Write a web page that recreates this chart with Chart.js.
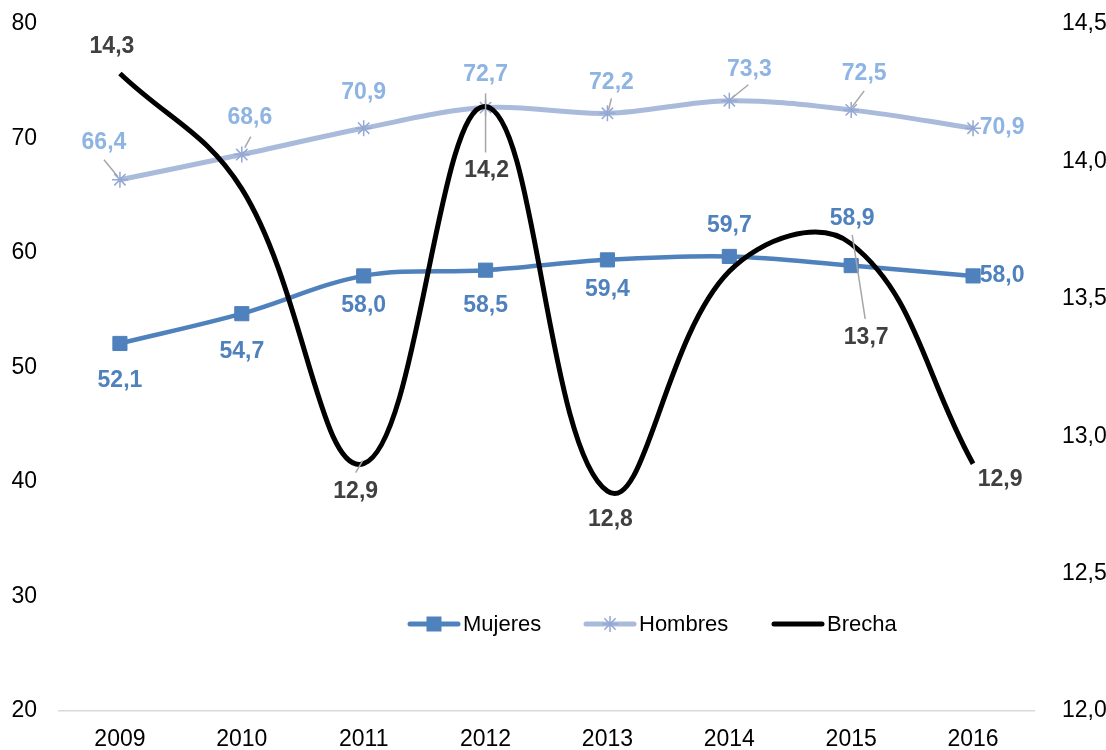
<!DOCTYPE html>
<html>
<head>
<meta charset="utf-8">
<script src="https://cdn.jsdelivr.net/npm/chart.js@4/dist/chart.umd.min.js"></script>
<style>
  html, body { margin: 0; padding: 0; background: #ffffff; }
  #wrap { width: 1106px; height: 750px; }
</style>
</head>
<body>
<div id="wrap"><canvas id="chart" width="1106" height="750"></canvas></div>
<script>
// =====================
// Data
// =====================

const years = ['2009', '2010', '2011', '2012', '2013', '2014', '2015', '2016'];
const mujeres = [52.1, 54.7, 58.0, 58.5, 59.4, 59.7, 58.9, 58.0];
const hombres = [66.4, 68.6, 70.9, 72.7, 72.2, 73.3, 72.5, 70.9];
const brecha = [14.32, 13.9, 12.9, 14.2, 12.8, 13.6, 13.7, 12.9];

const leftAxis = { min: 20, max: 80, step: 10 };
const rightAxis = { min: 12, max: 14.5, step: 0.5 };

// =====================
// Styles
// =====================

const FONT = "'Liberation Sans', Arial, sans-serif";
const colMujeres = '#4f81bd';
const colHombres = '#a9badb';
const colHombresMark = '#94a8d3';
const colHombresText = '#8db4e2';
const colBrecha = '#000000';
const colBrechaText = '#404040';
const colLeader = '#a6a6a6';

// label offsets from the point [dx, dy], null = no label
const mujeresLabelPos = [[0, 37], [0, 38], [0, 30], [0, 35], [0, 30], [0, -31], [1, -47], [29, 0]];
const hombresLabelPos = [[-16, -37], [8, -37], [0, -36], [0, -33], [4, -31], [20, -31], [13, -36], [29, -1]];
const brechaLabelPos = [[-8, -27], null, [-8, 28], [1, 64], [3, 28], null, [15, 94], [27, 16]];

// leader lines relative to the point [x1, y1, x2, y2]
const hombresLeaders = [[-16, -20, -2, -3], [9, -18, 3, -7], null, null, [4, -15, 1, -3], [19, -16, 3, -3], [13, -19, 1, -3], null];
const brechaLeaders = [null, null, [-1, -3, -8, 9], [0, -13, 0, 46], null, null, [1, -9, 14, 75], null];

const fmt = v => v.toFixed(1).replace('.', ',');

// =====================
// Plugins
// =====================

const labelPlugin = {
  id: 'pointLabels',
  afterDatasetsDraw(chart) {
    const ctx = chart.ctx;
    const sets = [
      { idx: 0, values: mujeres, pos: mujeresLabelPos, leaders: null, color: colMujeres },
      { idx: 1, values: hombres, pos: hombresLabelPos, leaders: hombresLeaders, color: colHombresText },
      { idx: 2, values: brecha, pos: brechaLabelPos, leaders: brechaLeaders, color: colBrechaText }
    ];
    ctx.save();
    // leader lines first
    ctx.strokeStyle = colLeader;
    ctx.lineWidth = 1.5;
    sets.forEach(s => {
      if (!s.leaders) return;
      const pts = chart.getDatasetMeta(s.idx).data;
      s.leaders.forEach((l, i) => {
        if (!l) return;
        const p = pts[i];
        ctx.beginPath();
        ctx.moveTo(p.x + l[0], p.y + l[1]);
        ctx.lineTo(p.x + l[2], p.y + l[3]);
        ctx.stroke();
      });
    });
    ctx.font = 'bold 23px ' + FONT;
    ctx.textAlign = 'center';
    ctx.textBaseline = 'middle';
    sets.forEach(s => {
      const pts = chart.getDatasetMeta(s.idx).data;
      ctx.fillStyle = s.color;
      s.values.forEach((v, i) => {
        const off = s.pos[i];
        if (!off) return;
        ctx.fillText(fmt(v), pts[i].x + off[0], pts[i].y + off[1]);
      });
    });
    ctx.restore();
  }
};

const legendPlugin = {
  id: 'innerLegend',
  afterDraw(chart) {
    const ctx = chart.ctx;
    const y = 624;
    const items = [
      { x: 408, text: 'Mujeres', color: colMujeres, mark: 'rect' },
      { x: 584, text: 'Hombres', color: colHombres, mark: 'star' },
      { x: 772, text: 'Brecha', color: colBrecha, mark: null }
    ];
    ctx.save();
    items.forEach(it => {
      ctx.strokeStyle = it.color;
      ctx.lineWidth = 5;
      ctx.lineCap = 'round';
      ctx.beginPath();
      ctx.moveTo(it.x + 2, y);
      ctx.lineTo(it.x + 50, y);
      ctx.stroke();
      const cx = it.x + 26;
      if (it.mark === 'rect') {
        ctx.fillStyle = it.color;
        ctx.fillRect(cx - 7.5, y - 7.5, 15, 15);
      } else if (it.mark === 'star') {
        ctx.strokeStyle = colHombresMark;
        ctx.lineWidth = 1.5;
        ctx.lineCap = 'butt';
        Chart.helpers.drawPoint(ctx, { pointStyle: 'star', radius: 8, rotation: 0, borderWidth: 1.5 }, cx, y);
      }
      ctx.fillStyle = '#000000';
      ctx.font = '22px ' + FONT;
      ctx.textAlign = 'left';
      ctx.textBaseline = 'middle';
      ctx.fillText(it.text, it.x + 55, y + 1);
    });
    ctx.restore();
  }
};

// y axes: fixed width, no automatic top/bottom padding
const fitY = w => s => {
  s.width = w;
  s.paddingTop = 0;
  s.paddingBottom = 0;
};

// =====================
// Chart
// =====================

Chart.defaults.font.family = FONT;
Chart.defaults.font.size = 23;
Chart.defaults.color = '#000000';

new Chart(document.getElementById('chart'), {
  type: 'line',
  data: {
    labels: years,
    datasets: [
      {
        label: 'Mujeres',
        data: mujeres,
        yAxisID: 'y',
        borderColor: colMujeres,
        backgroundColor: colMujeres,
        borderWidth: 4.5,
        tension: 0.35,
        pointStyle: 'rect',
        pointRadius: 10,
        pointBackgroundColor: colMujeres,
        pointBorderColor: colMujeres,
        pointBorderWidth: 1,
        order: 2
      },
      {
        label: 'Hombres',
        data: hombres,
        yAxisID: 'y',
        borderColor: colHombres,
        backgroundColor: colHombres,
        borderWidth: 5,
        tension: 0.35,
        pointStyle: 'star',
        pointRadius: 8,
        pointBorderColor: colHombresMark,
        pointBorderWidth: 1.5,
        order: 1
      },
      {
        label: 'Brecha',
        data: brecha,
        yAxisID: 'y1',
        borderColor: colBrecha,
        backgroundColor: colBrecha,
        borderWidth: 5,
        tension: 0.4,
        pointRadius: 0,
        order: 0
      }
    ]
  },
  options: {
    responsive: false,
    animation: false,
    clip: false,
    layout: { padding: { top: 24, left: 0, right: 0, bottom: 0 } },
    plugins: {
      legend: { display: false },
      tooltip: { enabled: false }
    },
    scales: {
      x: {
        offset: true,
        grid: { display: false, drawTicks: false },
        border: { display: true, color: '#d9d9d9', width: 1.5 },
        ticks: { padding: 15, color: '#000000', maxRotation: 0 },
        afterFit: s => { s.height = 39; s.paddingLeft = 0; s.paddingRight = 0; }
      },
      y: {
        position: 'left',
        min: leftAxis.min,
        max: leftAxis.max,
        grid: { display: false, drawTicks: false },
        border: { display: false },
        ticks: { stepSize: leftAxis.step, padding: 22, color: '#000000' },
        afterFit: fitY(59)
      },
      y1: {
        position: 'right',
        min: rightAxis.min,
        max: rightAxis.max,
        grid: { display: false, drawTicks: false },
        border: { display: false },
        ticks: { stepSize: rightAxis.step, padding: 28, color: '#000000', callback: v => fmt(v) },
        afterFit: fitY(72)
      }
    }
  },
  plugins: [labelPlugin, legendPlugin]
});
</script>
</body>
</html>
